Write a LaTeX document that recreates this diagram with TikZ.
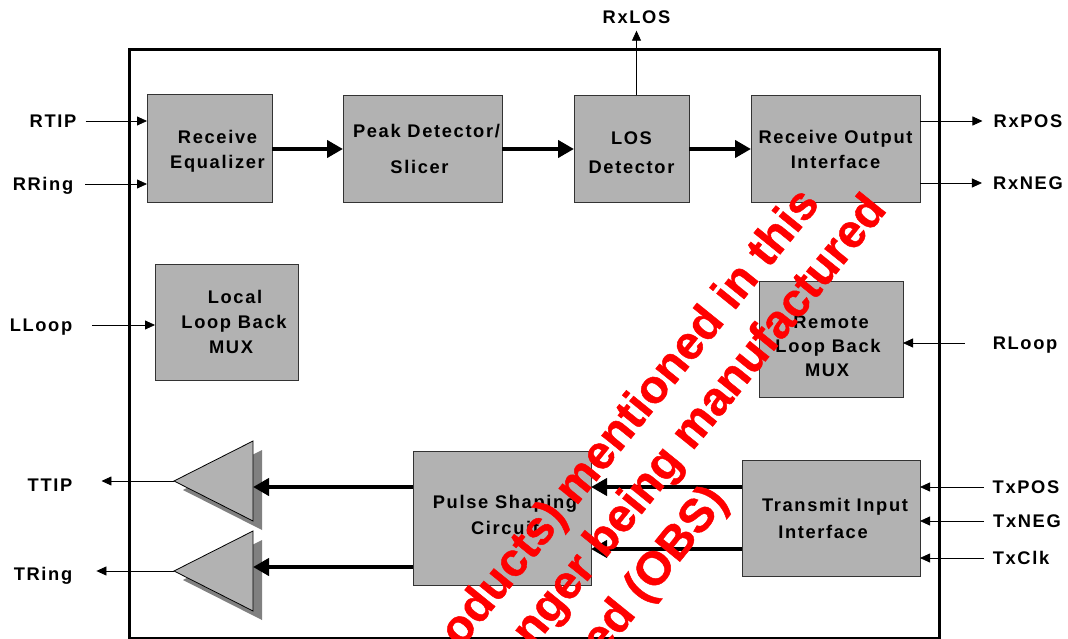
\documentclass[tikz,border=0pt]{standalone}
\usepackage{fontspec}
\setmainfont[LetterSpace=9]{Liberation Sans}
\newfontfamily\stampfont[FakeBold=1]{Liberation Sans Bold}
\usetikzlibrary{arrows.meta,shapes.geometric,positioning}
\definecolor{boxgray}{HTML}{B2B2B2}
\definecolor{edgegray}{HTML}{333333}
\definecolor{shadegray}{HTML}{808080}
\definecolor{stampred}{HTML}{FF0000}
\tikzset{
    chip/.style={
           draw=black, line width=3pt,
           outer sep=0pt,
           minimum width=810pt,
           minimum height=588pt
           },
    block/.style={
           draw=edgegray, line width=1pt,
           fill=boxgray,
           inner sep=0pt, outer sep=0pt,
           align=center,
           font=\fontsize{18.3}{25}\selectfont\bfseries
           },
    pin/.style={
           inner sep=0pt,
           text height=13pt, text depth=0pt,
           font=\fontsize{18.3}{22}\selectfont\bfseries
           },
    amp/.style={
           isosceles triangle,
           isosceles triangle stretches,
           shape border rotate=180,
           inner sep=0pt, outer sep=0pt,
           minimum height=79pt,
           minimum width=80pt,
           anchor=apex
           },
    thin sig/.style={
           line width=0.8pt,
           -{Triangle[length=10pt,width=9pt]}
           },
    bus/.style={
           line width=4pt,
           -{Triangle[length=16pt,width=17pt]}
           },
    stamp/.style={
           text=stampred,
           inner sep=0pt,
           rotate=51,
           anchor=base east,
           font=\fontsize{47}{52}\stampfont
           }
}

\begin{document}
\begin{tikzpicture}[x=1pt,y=-1pt]
\useasboundingbox (0,0) rectangle (1068,639);
   \node[chip] (frame) at (534,344) {};

   \node[block, minimum width=125pt, minimum height=108pt] (eq) at (209.5,149) {\rule{0pt}{18pt}\hspace*{16pt}Receive\\\hspace*{16pt}Equalizer};
   \node[block, minimum width=159pt, minimum height=107pt] (slicer) [right=71pt of eq] {\hspace*{8pt}Peak Detector/\\[11pt]\hspace*{-6pt}Slicer};
   \node[block, minimum width=115pt, minimum height=107pt] (los) [right=72pt of slicer] {\rule{0pt}{20pt}LOS\\[4pt]Detector};
   \node[block, minimum width=169pt, minimum height=107pt] (rxout) [right=62pt of los] {Receive Output\\Interface};
   \node[block, minimum width=143pt, minimum height=116pt] (lloopmux) [below=61pt of eq, xshift=17pt] {\hspace*{17pt}Local\\\hspace*{15pt}Loop Back\\\hspace*{9pt}MUX};
   \node[block, minimum width=144pt, minimum height=116pt] (rloopmux) [below=79pt of rxout, xshift=-4.5pt] {\mbox{}\\[1pt]Remote\\[-1pt]\hspace*{-6pt}Loop Back\\[-1pt]\hspace*{-8pt}MUX};
   \node[block, minimum width=178pt, minimum height=134pt] (pulse) at (502,518) {\hspace*{6pt}Pulse Shaping\\[1pt]\hspace*{6pt}Circuit\\[-19pt]\mbox{}};
   \node[block, minimum width=178pt, minimum height=116pt] (txin) [right=151pt of pulse] {\hspace*{8pt}Transmit Input\\[2pt]\hspace*{-16pt}Interface};

   % output drivers, shadow first
   \node[amp, fill=shadegray] at (183,490) {};
   \node[amp, fill=boxgray, draw=black, line width=0.8pt] (ampa) at (174,481) {};
   \node[amp, fill=shadegray] at (183,580) {};
   \node[amp, fill=boxgray, draw=black, line width=0.8pt] (ampb) at (174,571) {};

   \node[pin] (rtip) at (53,121) {RTIP};
   \node[pin] (rring) at (43,184) {RRing};
   \node[pin] (lloop) at (41,325) {LLoop};
   \node[pin] (ttip) at (50,485) {TTIP};
   \node[pin] (tring) at (43,574) {TRing};
   \node[pin] (rxlos) at (636.5,17) {RxLOS};
   \node[pin] (rxpos) at (1028,121) {RxPOS};
   \node[pin] (rxneg) at (1028,183) {RxNEG};
   \node[pin] (rloop) at (1025,343) {RLoop};
   \node[pin] (txpos) at (1026,487) {TxPOS};
   \node[pin] (txneg) at (1027,521) {TxNEG};
   \node[pin] (txclk) at (1021,558) {TxClk};

   \coordinate (txa) at ([yshift=31pt]txin.west);
   \coordinate (txb) at ([yshift=-31pt]txin.west);
   \coordinate (pua) at ([yshift=31pt]pulse.west);
   \coordinate (pub) at ([yshift=-49pt]pulse.west);

   \path
    (eq) edge[bus] (slicer)
    (slicer) edge[bus] (los)
    (los) edge[bus] (rxout)
    (txa) edge[bus] (txa -| pulse.east)
    (txb) edge[bus] (txb -| pulse.east)
    (pua) edge[bus] (pua -| ampa.lower side)
    (pub) edge[bus] (pub -| ampb.lower side);
   \path
    (rtip.east) edge[thin sig, shorten <=9pt] (rtip.east -| eq.west)
    (rring.east) edge[thin sig, shorten <=12pt] (rring.east -| eq.west)
    (lloop.east) edge[thin sig, shorten <=20pt] (lloop.east -| lloopmux.west)
    (rloop.west) edge[thin sig, shorten <=28pt] (rloop.west -| rloopmux.east)
    (rxlos.south |- los.north) edge[thin sig, shorten >=7pt] (rxlos.south)
    (rxpos.west -| rxout.east) edge[thin sig, shorten >=11pt] (rxpos.west)
    (rxneg.west -| rxout.east) edge[thin sig, shorten >=11pt] (rxneg.west)
    (txpos.west) edge[thin sig, shorten <=9pt] (txpos.west -| txin.east)
    (txneg.west) edge[thin sig, shorten <=9pt] (txneg.west -| txin.east)
    (txclk.west) edge[thin sig, shorten <=9pt] (txclk.west -| txin.east)
    (ampa.apex) edge[thin sig, shorten >=29pt] (ampa.apex -| ttip.east)
    (ampb.apex) edge[thin sig, shorten >=24pt] (ampb.apex -| tring.east);

   % diagonal notice, runs off the bottom of the page
   \node[stamp] (notea) at (821,204) {oducts) mentioned in this};
   \node[stamp] (noteb) at (888,210) {nger being manufactured};
   \node[stamp] (notec) at (729,501) {ed (OBS)};
\end{tikzpicture}
\end{document}
